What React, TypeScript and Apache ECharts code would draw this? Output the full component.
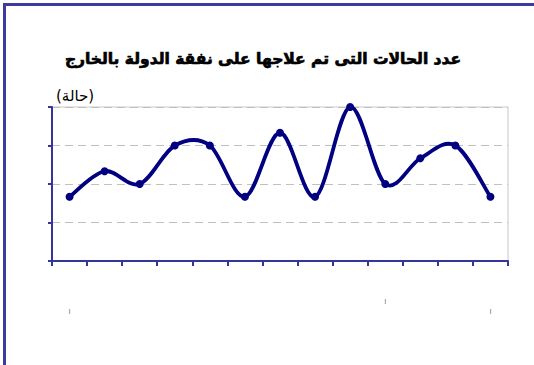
import React, { useEffect, useRef } from "react";
import * as echarts from "echarts";

const titleText = "عدد الحالات التى تم علاجها على نفقة الدولة بالخارج";
const unitText = "(حالة)";
const categories = ["1", "2", "3", "4", "5", "6", "7", "8", "9", "10", "11", "12", "13"];
const cases = [5, 7, 6, 9, 9, 5, 10, 5, 12, 6, 8, 9, 5];
const yTicks = [0, 3, 6, 9, 12];
const visibleMarks = [0, 9, 12];

export default function App() {
  const ref = useRef<HTMLDivElement>(null);
  useEffect(() => {
    document.body.style.margin = "0";
    const chart = echarts.init(ref.current!, null, { renderer: "svg" });
    const axisColor = "#35359a";
    const lineColor = "#000080";
    const n = cases.length;
    chart.setOption({
      animation: false,
      backgroundColor: "#ffffff",
      title: {
        text: titleText,
        left: 258,
        top: 46,
        textAlign: "center",
        textStyle: {
          fontFamily: "DejaVu Sans",
          fontSize: 15.5,
          fontWeight: "bold",
          color: "#000000",
          textBorderColor: "#000000",
          textBorderWidth: 0.7,
        },
      },
      graphic: [
        { type: "rect", shape: { x: 3, y: 3, width: 600, height: 3 }, style: { fill: "#3c3ca0" } },
        { type: "rect", shape: { x: 3, y: 3, width: 3, height: 400 }, style: { fill: "#3c3ca0" } },
        {
          type: "text",
          left: 56,
          top: 88,
          style: { text: unitText, font: "15px 'DejaVu Sans'", fill: "#000000" },
        },
      ],
      grid: {
        left: 52,
        right: 26,
        top: 107,
        bottom: 104,
        show: true,
        borderColor: "#c8c8c8",
        borderWidth: 1,
      },
      xAxis: {
        type: "category",
        data: categories,
        boundaryGap: true,
        axisLine: { lineStyle: { color: axisColor, width: 2 } },
        axisTick: { show: true, length: 5, alignWithLabel: false, lineStyle: { color: axisColor, width: 2 } },
        axisLabel: {
          interval: 0,
          margin: 37,
          formatter: (_v: string, i: number) =>
            visibleMarks.includes(i) ? (i === 9 ? "{b|l}" : "{a|l}") : "",
          rich: {
            a: { fontSize: 7, color: "#666666", padding: [10, 0, 0, 0] },
            b: { fontSize: 7, color: "#666666" },
          },
        },
        splitLine: { show: false },
      },
      yAxis: {
        type: "value",
        min: yTicks[0],
        max: yTicks[yTicks.length - 1],
        interval: 3,
        axisLine: { show: true, lineStyle: { color: axisColor, width: 2 } },
        axisTick: { show: true, length: 4, lineStyle: { color: axisColor, width: 2 } },
        axisLabel: { show: false },
        splitLine: { show: true, lineStyle: { color: "#c0c0c0", type: [8, 5], width: 1 } },
      },
      series: [
        {
          type: "custom",
          data: cases.map((v, i) => [i, v]),
          clip: false,
          z: 3,
          renderItem: (params: any, api: any) => {
            const i = params.dataIndex;
            if (i >= n - 1) return null;
            const pt = (k: number) => api.coord([Math.max(0, Math.min(n - 1, k)), cases[Math.max(0, Math.min(n - 1, k))]]);
            const p0 = pt(i - 1);
            const p1 = pt(i);
            const p2 = pt(i + 1);
            const p3 = pt(i + 2);
            const t = 1 / 6;
            return {
              type: "bezierCurve",
              shape: {
                x1: p1[0],
                y1: p1[1],
                x2: p2[0],
                y2: p2[1],
                cpx1: p1[0] + (p2[0] - p0[0]) * t,
                cpy1: p1[1] + (p2[1] - p0[1]) * t,
                cpx2: p2[0] - (p3[0] - p1[0]) * t,
                cpy2: p2[1] - (p3[1] - p1[1]) * t,
              },
              style: { stroke: lineColor, lineWidth: 3.8, fill: "none", lineCap: "round" },
            };
          },
        },
        {
          type: "line",
          data: cases,
          symbol: "circle",
          symbolSize: 8,
          z: 4,
          lineStyle: { width: 0, opacity: 0 },
          itemStyle: { color: lineColor },
        },
      ],
    });
    return () => chart.dispose();
  }, []);
  return <div ref={ref} style={{ position: "absolute", left: 0, top: 0, width: 534, height: 365 }} />;
}
